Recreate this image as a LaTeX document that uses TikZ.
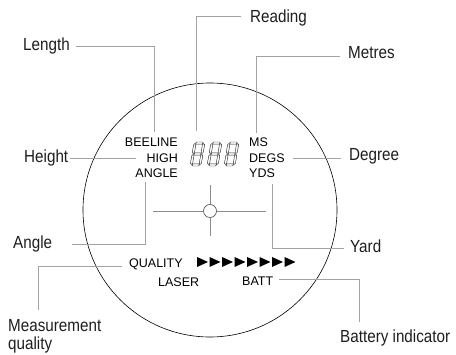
\documentclass[tikz,border=0pt]{standalone}
\usepackage{fontspec}
\setmainfont{Liberation Sans}
\newfontfamily\condfont[FakeStretch=0.87]{Liberation Sans}
\definecolor{leadcol}{HTML}{A3A3A3}
\definecolor{labelcol}{HTML}{1E1E1E}
\definecolor{crosscol}{HTML}{8C8C8C}
\begin{document}
\begin{tikzpicture}[x=1pt,y=-1pt,
  lbl/.style={font=\condfont\fontsize{17.5}{18}\selectfont, text=labelcol, inner sep=0pt},
  lcd/.style={font=\fontsize{12.5}{13}\selectfont, text=black, inner sep=0pt},
  lead/.style={draw=leadcol, line width=0.8pt},
  cross/.style={draw=crosscol, line width=0.8pt},
  seg/.style={draw=black!85, line width=0.45pt, line join=round}]
\useasboundingbox (0,0) rectangle (456,355);

% lens outline
\node[draw, circle, line width=0.6pt, minimum size=254pt, inner sep=0pt] (lens) at (210,210) {};

% reticle
\node[draw=black!70, circle, line width=0.6pt, minimum size=13pt, inner sep=0pt] (reticle) at (210,211) {};
\coordinate (crL) at (153,211);
\coordinate (crR) at (266,211);
\coordinate (crT) at (210,185);
\coordinate (crB) at (210,236);
\draw[cross] (crL) -- (reticle.west);
\draw[cross] (reticle.east) -- (crR);
\draw[cross] (crT) -- (reticle.north);
\draw[cross] (reticle.south) -- (crB);

% display texts
\node[lcd, anchor=base east] (beeline) at (178,147) {BEELINE};
\node[lcd, anchor=base east] (high) at (178,163) {HIGH};
\node[lcd, anchor=base east] (angleT) at (178,178) {ANGLE};
\node[lcd, anchor=base west] (ms) at (249,147) {MS};
\node[lcd, anchor=base west] (degs) at (249,163) {DEGS};
\node[lcd, anchor=base west] (yds) at (249,178) {YDS};
\node[lcd, anchor=base west] (qualityT) at (129,268) {QUALITY};
\node[lcd, anchor=base west] (laser) at (158,287) {LASER};
\node[lcd, anchor=base west] (batt) at (242,286) {BATT};

% quality bar
\foreach \i in {0,...,7}
  \fill[black] (197+12.5*\i,257) -- ++(11,5) -- ++(-11,5) -- cycle;

% seven-segment digits 888
\foreach \dx in {190,207,224}{
  \begin{scope}[shift={(\dx,166)}, x=1pt, y=1pt, xslant=0.17]
    \foreach \c in {1.1,12,22.9}
      \draw[seg] (1.6,\c) -- (2.7,\c+1.1) -- (8.3,\c+1.1) -- (9.4,\c) -- (8.3,\c-1.1) -- (2.7,\c-1.1) -- cycle;
    \foreach \xc in {1.1,9.9}{
      \draw[seg] (\xc,1.6) -- (\xc+1.1,2.7) -- (\xc+1.1,10.4) -- (\xc,11.5) -- (\xc-1.1,10.4) -- (\xc-1.1,2.7) -- cycle;
      \draw[seg] (\xc,12.5) -- (\xc+1.1,13.6) -- (\xc+1.1,21.3) -- (\xc,22.4) -- (\xc-1.1,21.3) -- (\xc-1.1,13.6) -- cycle;
    }
  \end{scope}
}

% labels
\node[lbl, anchor=base west] (length) at (23,51) {Length};
\node[lbl, anchor=base west] (reading) at (250,23) {Reading};
\node[lbl, anchor=base west] (metres) at (348,59) {Metres};
\node[lbl, anchor=base west] (height) at (24,163) {Height};
\node[lbl, anchor=base west] (degree) at (349,161) {Degree};
\node[lbl, anchor=base west] (angle) at (13,249) {Angle};
\node[lbl, anchor=base west] (yard) at (350,253) {Yard};
\node[lbl, anchor=north west, align=left] (measq) at (8,319.5) {Measurement\\quality};
\node[lbl, anchor=base west] (battind) at (340,343) {Battery indicator};

% leader coordinates
\coordinate (lenA) at (76,46);   \coordinate (lenB) at (154,46);  \coordinate (lenC) at (154,132);
\coordinate (redA) at (241,16);  \coordinate (redB) at (196,16);  \coordinate (redC) at (196,131);
\coordinate (metA) at (340,56);  \coordinate (metB) at (256,56);  \coordinate (metC) at (256,133);
\coordinate (heiA) at (70,158);  \coordinate (heiB) at (136,158);
\coordinate (degA) at (293,158); \coordinate (degB) at (341,158);
\coordinate (angA) at (72,244);  \coordinate (angB) at (145,244); \coordinate (angC) at (145,182);
\coordinate (yarA) at (344,248); \coordinate (yarB) at (272,248); \coordinate (yarC) at (272,184);
\coordinate (quaA) at (122,266); \coordinate (quaB) at (38,266);  \coordinate (quaC) at (38,310);
\coordinate (batA) at (279,279); \coordinate (batB) at (359,279); \coordinate (batC) at (359,322);

% leaders
\draw[lead] (lenA) -- (lenB) -- (lenC);
\draw[lead] (redA) -- (redB) -- (redC);
\draw[lead] (metA) -- (metB) -- (metC);
\draw[lead] (heiA) -- (heiB);
\draw[lead] (degA) -- (degB);
\draw[lead] (angA) -- (angB) -- (angC);
\draw[lead] (yarA) -- (yarB) -- (yarC);
\draw[lead] (quaA) -- (quaB) -- (quaC);
\draw[lead] (batA) -- (batB) -- (batC);
\end{tikzpicture}
\end{document}
